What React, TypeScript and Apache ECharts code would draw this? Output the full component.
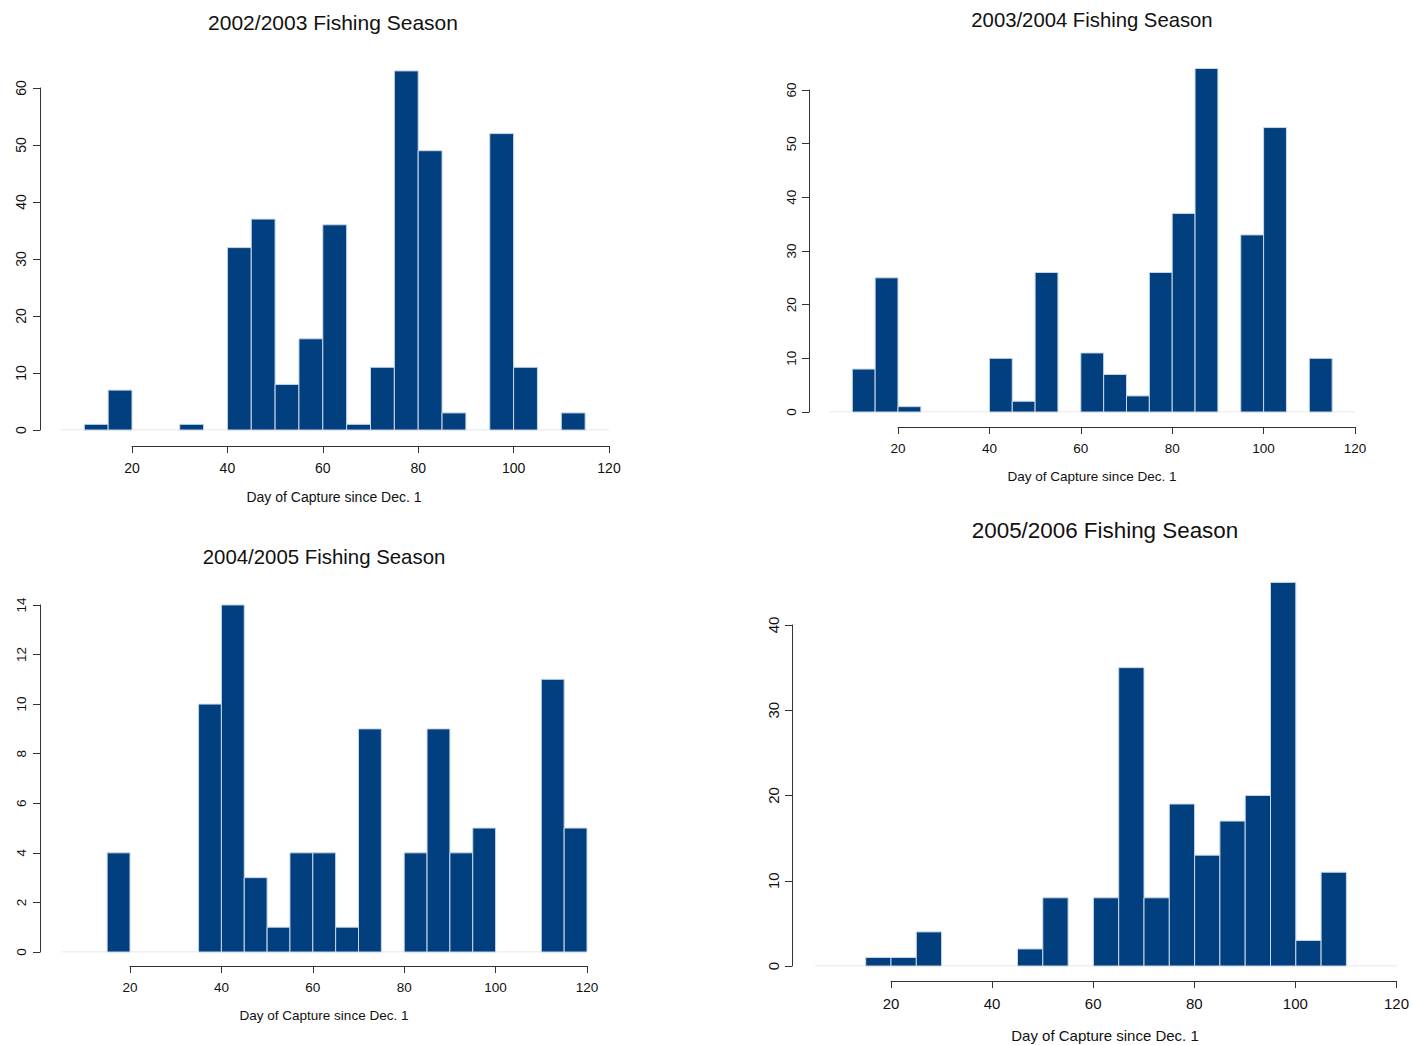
import React, { useEffect, useRef } from "react";
import * as echarts from "echarts";

// Histogram bins (day of capture since Dec. 1), width 5 days
const BIN_STARTS = [5, 10, 15, 20, 25, 30, 35, 40, 45, 50, 55, 60, 65, 70, 75, 80, 85, 90, 95, 100, 105, 110, 115];
const BIN_WIDTH = 5;

const COUNTS_2002 = [0, 1, 7, 0, 0, 1, 0, 32, 37, 8, 16, 36, 1, 11, 63, 49, 3, 0, 52, 11, 0, 3, 0];
const COUNTS_2003 = [0, 8, 25, 1, 0, 0, 0, 10, 2, 26, 0, 11, 7, 3, 26, 37, 64, 0, 33, 53, 0, 10, 0];
const COUNTS_2004 = [0, 0, 4, 0, 0, 0, 10, 14, 3, 1, 4, 4, 1, 9, 0, 4, 9, 4, 5, 0, 0, 11, 5];
const COUNTS_2005 = [0, 0, 1, 1, 4, 0, 0, 0, 2, 8, 0, 8, 35, 8, 19, 13, 17, 20, 45, 3, 11, 0, 0];

const TITLES = ["2002/2003 Fishing Season", "2003/2004 Fishing Season", "2004/2005 Fishing Season", "2005/2006 Fishing Season"];
const X_LABEL = "Day of Capture since Dec. 1";
const X_TICKS_MIN = 20;
const X_TICKS_MAX = 120;
const X_TICK_STEP = 20;
const Y_TICK_MAX = [60, 60, 14, 40];
const Y_TICK_STEP = [10, 10, 2, 10];

// Layout of each panel (pixel geometry only)
const PANELS = [
  { x0: 36.6, ppd: 4.77, y0: 430, ppu: 5.7, gridMax: 70, yAxisX: 40, xAxisY: 446, titleX: 333, titleY: 22, titleSize: 21, nameX: 334, nameY: 497, tickFont: 14, nameFont: 14, xLabMargin: 15, yLabMargin: 12 },
  { x0: 806.6, ppd: 4.57, y0: 412, ppu: 5.367, gridMax: 70, yAxisX: 809, xAxisY: 427, titleX: 1092, titleY: 20, titleSize: 20.3, nameX: 1092, nameY: 476, tickFont: 13.5, nameFont: 13.5, xLabMargin: 14, yLabMargin: 11 },
  { x0: 38.6, ppd: 4.57, y0: 952, ppu: 24.79, gridMax: 15, yAxisX: 40, xAxisY: 966, titleX: 324, titleY: 557, titleSize: 20.4, nameX: 324, nameY: 1015, tickFont: 13.5, nameFont: 13.5, xLabMargin: 14, yLabMargin: 12 },
  { x0: 789.8, ppd: 5.06, y0: 966, ppu: 8.525, gridMax: 50, yAxisX: 792, xAxisY: 981, titleX: 1105, titleY: 530, titleSize: 22.4, nameX: 1105, nameY: 1035, tickFont: 15, nameFont: 15, xLabMargin: 15, yLabMargin: 11 },
];

const ALL_COUNTS = [COUNTS_2002, COUNTS_2003, COUNTS_2004, COUNTS_2005];

const FONT = "'Liberation Sans', Arial, Helvetica, sans-serif";
const BAR_FILL = "#023f7f";
const BAR_STROKE = "#c9d7e8";
const AXIS_COLOR = "#333333";
const TEXT_COLOR = "#111111";

export default function App() {
  const ref = useRef<HTMLDivElement>(null);

  useEffect(() => {
    if (!ref.current) return;
    const chart = echarts.init(ref.current, null, { renderer: "svg" });

    const grids: any[] = [];
    const xAxes: any[] = [];
    const yAxes: any[] = [];
    const series: any[] = [];
    const graphics: any[] = [];

    const XMIN = 0;
    const XMAX = 120;

    PANELS.forEach((p, i) => {
      const counts = ALL_COUNTS[i];
      // main plotting grid
      const gi = grids.length;
      grids.push({
        left: p.x0 + XMIN * p.ppd,
        width: (XMAX - XMIN) * p.ppd,
        top: p.y0 - p.gridMax * p.ppu,
        height: p.gridMax * p.ppu,
      });
      xAxes.push({ gridIndex: gi, type: "value", min: XMIN, max: XMAX, show: false });
      yAxes.push({ gridIndex: gi, type: "value", min: 0, max: p.gridMax, show: false });

      // baseline
      series.push({
        type: "line",
        xAxisIndex: gi,
        yAxisIndex: gi,
        data: [[BIN_STARTS[0], 0], [BIN_STARTS[BIN_STARTS.length - 1] + BIN_WIDTH, 0]],
        symbol: "none",
        lineStyle: { color: "#e0e0e0", width: 1.2 },
        z: 1,
        silent: true,
      });

      // histogram bars
      const data = BIN_STARTS.map((s, k) => [s, s + BIN_WIDTH, counts[k]]).filter((d) => d[2] > 0);
      series.push({
        type: "custom",
        xAxisIndex: gi,
        yAxisIndex: gi,
        z: 3,
        data,
        renderItem: (params: any, api: any) => {
          const s = api.value(0);
          const e = api.value(1);
          const v = api.value(2);
          const p0 = api.coord([s, v]);
          const p1 = api.coord([e, 0]);
          return {
            type: "rect",
            shape: { x: p0[0], y: p0[1], width: p1[0] - p0[0], height: p1[1] - p0[1] },
            style: { fill: BAR_FILL, stroke: BAR_STROKE, lineWidth: 1 },
          };
        },
      });

      // x axis (R style, detached, spanning first to last tick)
      const gx = grids.length;
      grids.push({
        left: p.x0 + X_TICKS_MIN * p.ppd,
        width: (X_TICKS_MAX - X_TICKS_MIN) * p.ppd,
        top: p.xAxisY - 1,
        height: 1,
      });
      xAxes.push({
        gridIndex: gx,
        type: "value",
        position: "bottom",
        min: X_TICKS_MIN,
        max: X_TICKS_MAX,
        interval: X_TICK_STEP,
        axisLine: { show: true, lineStyle: { color: AXIS_COLOR, width: 1 } },
        axisTick: { show: true, inside: false, length: 7, lineStyle: { color: AXIS_COLOR, width: 1 } },
        axisLabel: { show: true, color: TEXT_COLOR, fontSize: p.tickFont, fontFamily: FONT, margin: p.xLabMargin, showMinLabel: true, showMaxLabel: true },
        splitLine: { show: false },
      });
      yAxes.push({ gridIndex: gx, type: "value", min: 0, max: 1, show: false });

      // y axis (R style, spanning 0 to last tick)
      const gy = grids.length;
      const yMax = Y_TICK_MAX[i];
      grids.push({
        left: p.yAxisX,
        width: 1,
        top: p.y0 - yMax * p.ppu,
        height: yMax * p.ppu,
      });
      xAxes.push({ gridIndex: gy, type: "value", min: 0, max: 1, show: false });
      yAxes.push({
        gridIndex: gy,
        type: "value",
        position: "left",
        min: 0,
        max: yMax,
        interval: Y_TICK_STEP[i],
        axisLine: { show: true, lineStyle: { color: AXIS_COLOR, width: 1 } },
        axisTick: { show: true, inside: false, length: 7, lineStyle: { color: AXIS_COLOR, width: 1 } },
        axisLabel: { show: true, rotate: 90, color: TEXT_COLOR, fontSize: p.tickFont, fontFamily: FONT, margin: p.yLabMargin, showMinLabel: true, showMaxLabel: true },
        splitLine: { show: false },
      });

      graphics.push({
        type: "text",
        x: p.titleX,
        y: p.titleY,
        style: {
          text: TITLES[i],
          font: `${p.titleSize}px ${FONT}`,
          fill: TEXT_COLOR,
          textAlign: "center",
          textVerticalAlign: "middle",
          align: "center",
          verticalAlign: "middle",
        },
      });
      graphics.push({
        type: "text",
        x: p.nameX,
        y: p.nameY,
        style: {
          text: X_LABEL,
          font: `${p.nameFont}px ${FONT}`,
          fill: TEXT_COLOR,
          textAlign: "center",
          textVerticalAlign: "middle",
          align: "center",
          verticalAlign: "middle",
        },
      });
    });

    chart.setOption({
      animation: false,
      backgroundColor: "#ffffff",
      textStyle: { fontFamily: FONT },
      grid: grids,
      xAxis: xAxes,
      yAxis: yAxes,
      series,
      graphic: graphics,
    });

    return () => chart.dispose();
  }, []);

  return (
    <div
      ref={ref}
      style={{ position: "fixed", left: 0, top: 0, width: 1412, height: 1045, background: "#fff" }}
    />
  );
}
